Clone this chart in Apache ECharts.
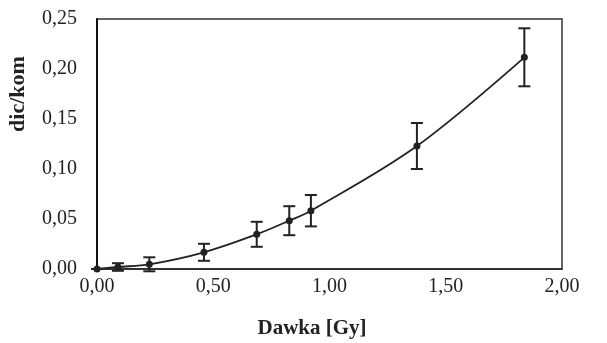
<!DOCTYPE html>
<html>
<head>
<meta charset="utf-8">
<script src="https://cdn.jsdelivr.net/npm/echarts@6/dist/echarts.min.js"></script>
<style>
  html, body { margin: 0; padding: 0; background: #fff; }
  #chart { width: 607px; height: 343px; }
</style>
</head>
<body>
<div id="chart"></div>
<script>
// dose [Gy]
const doses = [0, 0.09, 0.225, 0.46, 0.687, 0.827, 0.92, 1.376, 1.838];
// dic/kom mean values
const means = [0, 0.002, 0.0047, 0.0167, 0.0347, 0.0483, 0.0583, 0.123, 0.2117];
// error bar half-lengths
const errors = [0, 0.0038, 0.007, 0.0085, 0.0125, 0.0145, 0.0157, 0.023, 0.029];

const xTicks = [0, 0.5, 1, 1.5, 2];
const yTicks = [0, 0.05, 0.1, 0.15, 0.2, 0.25];

const fmt = (v, d) => v.toFixed(d).replace('.', ',');
const serif = '"Liberation Serif", "DejaVu Serif", serif';
const ink = '#222';

const chart = echarts.init(document.getElementById('chart'), null, { renderer: 'canvas' });

chart.setOption({
  animation: false,
  backgroundColor: '#fff',
  grid: {
    left: 97,
    right: 45,
    top: 19,
    bottom: 74,
    outerBoundsMode: 'none',
    show: true,
    borderColor: '#333',
    borderWidth: 1.5,
  },
  xAxis: {
    type: 'value',
    min: xTicks[0],
    max: xTicks[xTicks.length - 1],
    interval: 0.5,
    name: 'Dawka [Gy]',
    nameLocation: 'middle',
    nameGap: 49,
    nameTextStyle: {
      fontFamily: serif,
      fontWeight: 'bold',
      fontSize: 21,
      color: ink,
      padding: [0, 35, 0, 0],
    },
    axisLine: { show: true, lineStyle: { color: '#222', width: 1.5 } },
    axisTick: { show: false },
    splitLine: { show: false },
    axisLabel: {
      fontFamily: serif,
      fontSize: 20,
      color: ink,
      margin: 8,
      formatter: (v) => fmt(v, 2),
    },
  },
  yAxis: {
    type: 'value',
    min: yTicks[0],
    max: yTicks[yTicks.length - 1],
    interval: 0.05,
    name: 'dic/kom',
    nameLocation: 'middle',
    nameRotate: 90,
    nameGap: 68,
    nameTextStyle: {
      fontFamily: serif,
      fontWeight: 'bold',
      fontSize: 22,
      color: ink,
      padding: [0, 0, 0, 100],
    },
    axisLine: { show: true, lineStyle: { color: '#111', width: 2 } },
    axisTick: { show: false },
    splitLine: { show: false },
    axisLabel: {
      fontFamily: serif,
      fontSize: 20,
      color: ink,
      margin: 20,
      formatter: (v) => fmt(v, 2),
    },
  },
  series: [
    {
      name: 'trend',
      type: 'line',
      smooth: 0.35,
      data: doses.map((d, i) => [d, means[i]]),
      symbol: 'circle',
      symbolSize: 7,
      itemStyle: { color: ink },
      lineStyle: { color: ink, width: 1.8 },
      z: 3,
    },
    {
      name: 'errors',
      type: 'custom',
      data: doses.map((d, i) => [d, means[i] - errors[i], means[i] + errors[i]]),
      renderItem: (params, api) => {
        const lo = api.coord([api.value(0), api.value(1)]);
        const hi = api.coord([api.value(0), api.value(2)]);
        const w = 6;
        const style = { stroke: ink, lineWidth: 2 };
        return {
          type: 'group',
          children: [
            { type: 'line', shape: { x1: lo[0], y1: lo[1], x2: hi[0], y2: hi[1] }, style },
            { type: 'line', shape: { x1: hi[0] - w, y1: hi[1], x2: hi[0] + w, y2: hi[1] }, style },
            { type: 'line', shape: { x1: lo[0] - w, y1: lo[1], x2: lo[0] + w, y2: lo[1] }, style },
          ],
        };
      },
      z: 4,
    },
  ],
});
</script>
</body>
</html>
